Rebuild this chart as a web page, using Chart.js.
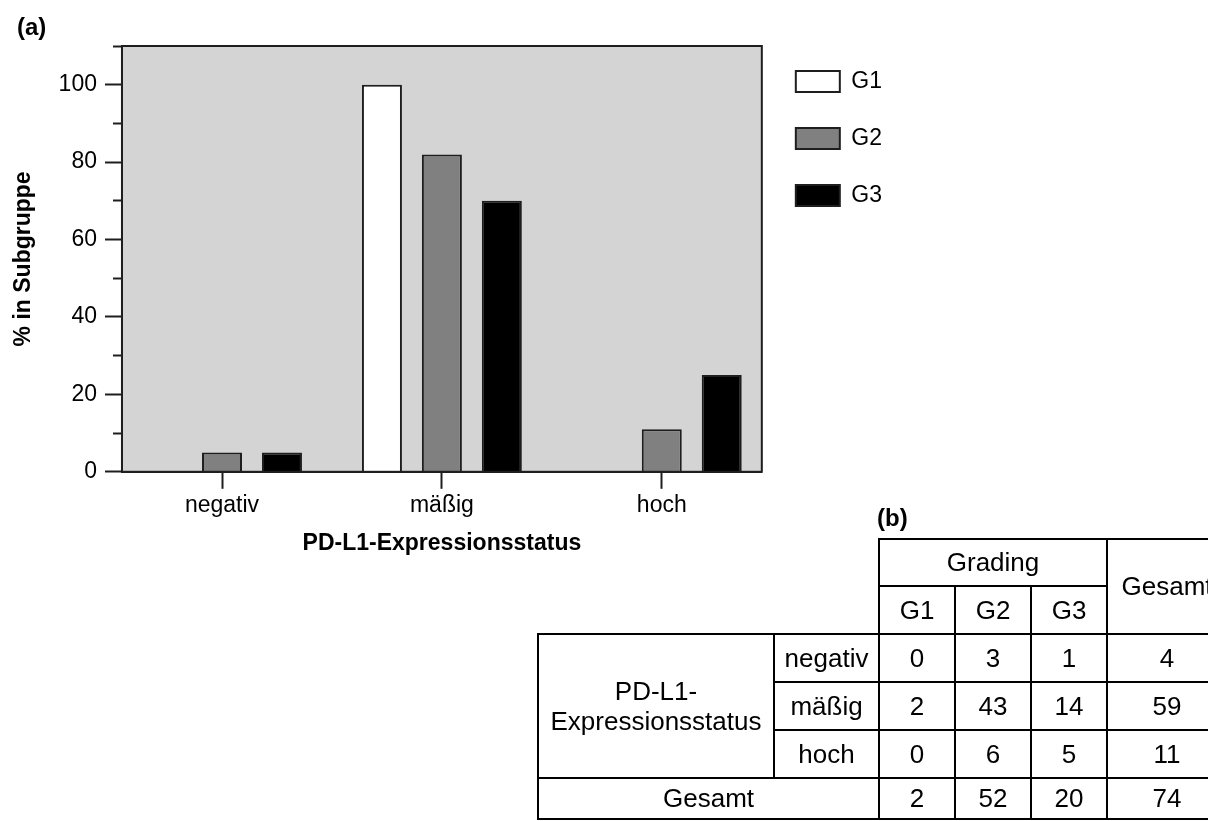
<!DOCTYPE html>
<html>
<head>
<meta charset="utf-8">
<title>PD-L1-Expressionsstatus nach Grading</title>
<script src="https://cdn.jsdelivr.net/npm/chart.js@4.4.1/dist/chart.umd.min.js"></script>
<style>
  html, body { margin: 0; padding: 0; background: #fff; overflow: hidden; }
  body { width: 1208px; height: 821px; position: relative; color: #000;
         font-family: "Liberation Sans", Arial, Helvetica, sans-serif; }
  #chart { position: absolute; left: 0; top: 0; }
  .panel { position: absolute; font-weight: bold; font-size: 24px; line-height: 24px; }
  #tbl { position: absolute; left: 537px; top: 538px; width: 690px;
         border-collapse: collapse; table-layout: fixed; font-size: 26px; }
  #tbl td { border: 2px solid #000; text-align: center; vertical-align: middle;
            padding: 0; white-space: nowrap; overflow: hidden; }
  #tbl td.blank { border-top: none; border-left: none; }
  #tbl td.group { line-height: 30px; }
  #tbl col.c-group { width: 236px; }
  #tbl col.c-level { width: 105px; }
  #tbl col.c-grade { width: 76px; }
  #tbl col.c-total { width: 120px; }
  #tbl tr.h1 { height: 47px; }
  #tbl tr.h2, #tbl tr.row { height: 48px; }
  #tbl tr.foot { height: 41px; }
</style>
</head>
<body>
<canvas id="chart" width="1208" height="821"></canvas>
<div class="panel" style="left:17px; top:15px;">(a)</div>
<div class="panel" style="left:877px; top:506px;">(b)</div>
<table id="tbl">
  <colgroup>
    <col class="c-group"><col class="c-level"><col class="c-grade"><col class="c-grade"><col class="c-grade"><col class="c-total">
  </colgroup>
  <tbody></tbody>
</table>

<script>
// Expression levels (x categories) and tumour grades (series)
const categories = ['negativ', 'mäßig', 'hoch'];
const grades = ['G1', 'G2', 'G3'];

// Share of each grade subgroup per expression level, in %
const pctG1 = [0, 100, 0];
const pctG2 = [5, 82, 11];
const pctG3 = [5, 70, 25];

// Y axis ticks; only these values carry a label and a long tick mark
const yTicks = [0, 10, 20, 30, 40, 50, 60, 70, 80, 90, 100, 110];
const yLabelled = [0, 20, 40, 60, 80, 100];

// Case counts for the cross table
const countRows = ['negativ', 'mäßig', 'hoch'];
const countG1 = [0, 2, 0];
const countG2 = [3, 43, 6];
const countG3 = [1, 14, 5];
const countTotal = [4, 59, 11];
const columnTotals = [2, 52, 20, 74];

const INK = '#1e1e1e';
const FONT = '"Liberation Sans", Arial, Helvetica, sans-serif';
Chart.defaults.font.family = FONT;
Chart.defaults.font.size = 23;
Chart.defaults.color = '#000';

// grey plot panel behind the bars, framed on all four sides
const plotPanel = {
  id: 'plotPanel',
  beforeDraw(chart) {
    const { ctx, chartArea: a } = chart;
    ctx.save();
    ctx.fillStyle = '#d4d4d4';
    ctx.fillRect(a.left, a.top, a.right - a.left, a.bottom - a.top);
    ctx.restore();
  },
  afterDraw(chart) {
    const { ctx, chartArea: a } = chart;
    ctx.save();
    ctx.strokeStyle = INK;
    ctx.lineWidth = 2;
    ctx.strokeRect(a.left, a.top, a.right - a.left, a.bottom - a.top);
    ctx.restore();
  }
};

const series = [pctG1, pctG2, pctG3];
const fills = ['#ffffff', '#808080', '#000000'];
const isLabelled = ctx => ctx.tick && yLabelled.includes(ctx.tick.value);

new Chart(document.getElementById('chart'), {
  type: 'bar',
  data: {
    datasets: grades.map((g, k) => ({
      label: g,
      data: series[k].map((v, i) => ({ x: i, y: v })),
      backgroundColor: fills[k],
      borderColor: INK,
      borderWidth: 2,
      borderSkipped: 'start',
      inflateAmount: 0,
      categoryPercentage: 0.818,
      barPercentage: 0.667,
      xAxisID: 'x',
      yAxisID: 'y'
    }))
  },
  options: {
    responsive: false,
    animation: false,
    devicePixelRatio: 1,
    layout: { padding: { left: 0, top: 36, right: 316, bottom: 264 } },
    plugins: {
      legend: {
        position: 'right',
        align: 'start',
        labels: { boxWidth: 44, boxHeight: 21, padding: 34, color: '#000', font: { size: 23 } }
      },
      tooltip: { enabled: false }
    },
    scales: {
      x: {
        type: 'linear',
        position: 'bottom',
        min: -0.455,
        max: 2.455,
        offset: false,
        afterBuildTicks: axis => { axis.ticks = categories.map((_, i) => ({ value: i })); },
        ticks: { callback: v => categories[v], padding: 3, color: '#000', maxRotation: 0, autoSkip: false },
        grid: { drawOnChartArea: false, offset: false, tickLength: 17, tickWidth: 2, tickColor: INK },
        border: { display: true, color: INK, width: 2, z: 1 },
        title: { display: true, text: 'PD-L1-Expressionsstatus', color: '#000',
                 font: { size: 23, weight: 'bold' }, padding: { top: 7, bottom: 0 } }
      },
      // spacer above the plot panel (no ticks, no labels)
      xTop: {
        type: 'linear',
        position: 'top',
        min: -0.455,
        max: 2.455,
        offset: false,
        ticks: { display: false },
        grid: { drawOnChartArea: false, offset: false, tickLength: 10, tickColor: 'rgba(0,0,0,0)' },
        border: { display: false }
      },
      y: {
        type: 'linear',
        position: 'left',
        min: 0,
        max: 110,
        afterBuildTicks: axis => { axis.ticks = yTicks.map(v => ({ value: v })); },
        ticks: {
          padding: 8,
          color: '#000',
          autoSkip: false,
          callback: v => (yLabelled.includes(v) ? String(v) : '')
        },
        grid: {
          drawOnChartArea: false,
          tickLength: 17,
          tickWidth: 2,
          tickColor: INK,
          // unlabelled ticks are drawn as the inner 9 px only
          tickBorderDash: ctx => (isLabelled(ctx) ? [] : [9, 8]),
          tickBorderDashOffset: ctx => (isLabelled(ctx) ? 0 : 9)
        },
        border: { display: true, color: INK, width: 2, z: 1 },
        title: { display: true, text: '% in Subgruppe', color: '#000',
                 font: { size: 23, weight: 'bold' }, padding: { top: 10, bottom: 13 } }
      }
    }
  },
  plugins: [plotPanel]
});

// cross table of case counts
let rows = '';
rows += '<tr class="h1"><td class="blank" colspan="2" rowspan="2"></td>' +
        '<td colspan="3">Grading</td><td rowspan="2">Gesamt</td></tr>';
rows += '<tr class="h2">' + grades.map(g => `<td>${g}</td>`).join('') + '</tr>';
countRows.forEach((name, i) => {
  rows += '<tr class="row">' +
    (i === 0 ? '<td class="group" rowspan="3">PD-L1-<br>Expressionsstatus</td>' : '') +
    `<td>${name}</td><td>${countG1[i]}</td><td>${countG2[i]}</td><td>${countG3[i]}</td><td>${countTotal[i]}</td></tr>`;
});
rows += '<tr class="foot"><td colspan="2">Gesamt</td>' +
        columnTotals.map(v => `<td>${v}</td>`).join('') + '</tr>';
document.querySelector('#tbl tbody').innerHTML = rows;
</script>
</body>
</html>
